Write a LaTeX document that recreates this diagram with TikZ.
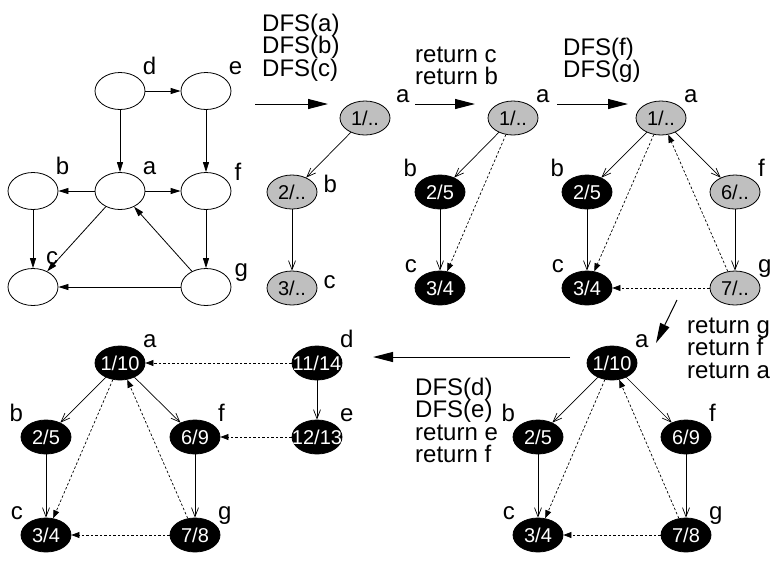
\documentclass[tikz,border=0pt]{standalone}
\usepackage{fontspec}
\setmainfont{Liberation Sans}
\usetikzlibrary{shapes.geometric,arrows.meta,positioning}

\newcommand{\steptxt}{\fontsize{24}{22.5}\selectfont}
\newcommand{\numtxt}{\fontsize{20}{20}\selectfont}
\newcommand{\tstamp}[1]{\makebox[0pt]{#1}}

\begin{document}
\begin{tikzpicture}[
    x=1pt, y=-1pt,
    label distance=6pt,
    % vertices of the input graph
    vertex/.style={ellipse, draw, line width=0.8pt, fill=white,
        minimum width=50pt, minimum height=37pt, inner sep=0pt},
    % discovered (gray) and finished (black) vertices
    visit/.style={ellipse, draw, line width=0.8pt, fill=black!25,
        minimum width=50pt, minimum height=34pt, inner sep=0pt, font=\numtxt},
    done/.style={visit, fill=black, text=white},
    % vertex names
    lbl/.style={font=\steptxt, inner sep=0pt},
    rl/.style={label={[lbl, anchor=base west]north east:#1}},
    ll/.style={label={[lbl, anchor=base east]north west:#1}},
    el/.style={label={[lbl, anchor=base west]east:#1}},
    % arrow styles
    grapharr/.style={-{Triangle[length=10pt,width=6pt]}, line width=0.8pt},
    treearr/.style={-{Straight Barb[length=9pt,width=7pt]}, line width=0.7pt},
    backarr/.style={-{Triangle[length=8pt,width=6pt]}, line width=0.7pt,
        dash pattern=on 2.5pt off 2pt},
    movearr/.style={-{Triangle[length=20pt,width=10pt]}, line width=1pt},
    info/.style={font=\steptxt, align=left, inner sep=0pt, anchor=base west}
]
    \useasboundingbox (0,0) rectangle (775,560);

    % Input graph
    \node[vertex, rl=d] (d1) at (120,91) {};
    \node[vertex, rl=e] (e1) at (206,91) {};
    \node[vertex, rl=b] (b1) at (33,191) {};
    \node[vertex, rl=a] (a1) at (120,191) {};
    \node[vertex, label={[lbl, anchor=base west]20:f}] (f1) at (206,191) {};
    \node[vertex, label={[lbl, anchor=base west]60:c}] (c1) at (33,287) {};
    \node[vertex, label={[lbl, anchor=base west]20:g}] (g1) at (206,287) {};

    \draw[grapharr] (d1) -- (e1);
    \draw[grapharr] (d1) -- (a1);
    \draw[grapharr] (e1) -- (f1);
    \draw[grapharr] (a1) -- (b1);
    \draw[grapharr] (a1) -- (f1);
    \draw[grapharr] (a1) -- (c1);
    \draw[grapharr] (b1) -- (c1);
    \draw[grapharr] (f1) -- (g1);
    \draw[grapharr] (g1) -- (a1);
    \draw[grapharr] (g1) -- (c1);

    % Step 1: DFS(a), DFS(b), DFS(c)
    \node[visit, label={[lbl, anchor=base west, xshift=8pt]north east:a}] (a2) at (365,118) {\tstamp{1/..}};
    \node[visit, el=b] (b2) at (292,192) {\tstamp{2/..}};
    \node[visit, el=c] (c2) at (292,288) {\tstamp{3/..}};

    \draw[treearr] (a2) -- (b2);
    \draw[treearr] (b2) -- (c2);

    % Step 2: return c, return b
    \node[visit, rl=a] (a3) at (513,118) {\tstamp{1/..}};
    \node[done, ll=b] (b3) at (440,192) {\tstamp{2/5}};
    \node[done, ll=c] (c3) at (440,288) {\tstamp{3/4}};

    \draw[treearr] (a3) -- (b3);
    \draw[treearr] (b3) -- (c3);
    \draw[backarr] (a3) -- (c3);

    % Step 3: DFS(f), DFS(g)
    \node[visit, rl=a] (a4) at (661,118) {\tstamp{1/..}};
    \node[done, ll=b] (b4) at (587,192) {\tstamp{2/5}};
    \node[visit, rl=f] (f4) at (735,192) {\tstamp{6/..}};
    \node[done, ll=c] (c4) at (587,288) {\tstamp{3/4}};
    \node[visit, rl=g] (g4) at (735,288) {\tstamp{7/..}};

    \draw[treearr] (a4) -- (b4);
    \draw[treearr] (b4) -- (c4);
    \draw[treearr] (a4) -- (f4);
    \draw[treearr] (f4) -- (g4);
    \draw[backarr] (a4) -- (c4);
    \draw[backarr] (g4) -- (a4);
    \draw[backarr] (g4) -- (c4);

    % Step 4: return g, return f, return a
    \node[done, rl=a] (a5) at (612,363) {\tstamp{1/10}};
    \node[done, ll=b] (b5) at (538,437) {\tstamp{2/5}};
    \node[done, rl=f] (f5) at (686,437) {\tstamp{6/9}};
    \node[done, ll=c] (c5) at (538,535) {\tstamp{3/4}};
    \node[done, rl=g] (g5) at (686,535) {\tstamp{7/8}};

    \draw[treearr] (a5) -- (b5);
    \draw[treearr] (b5) -- (c5);
    \draw[treearr] (a5) -- (f5);
    \draw[treearr] (f5) -- (g5);
    \draw[backarr] (a5) -- (c5);
    \draw[backarr] (g5) -- (a5);
    \draw[backarr] (g5) -- (c5);

    % Step 5: DFS(d), DFS(e), return e, return f
    \node[done, rl=a] (a6) at (120,363) {\tstamp{1/10}};
    \node[done, ll=b] (b6) at (46,437) {\tstamp{2/5}};
    \node[done, rl=f] (f6) at (195,437) {\tstamp{6/9}};
    \node[done, ll=c] (c6) at (46,535) {\tstamp{3/4}};
    \node[done, rl=g] (g6) at (195,535) {\tstamp{7/8}};
    \node[done, rl=d] (d6) at (317,363) {\tstamp{11/14}};
    \node[done, rl=e] (e6) at (317,437) {\tstamp{12/13}};

    \draw[treearr] (a6) -- (b6);
    \draw[treearr] (b6) -- (c6);
    \draw[treearr] (a6) -- (f6);
    \draw[treearr] (f6) -- (g6);
    \draw[treearr] (d6) -- (e6);
    \draw[backarr] (a6) -- (c6);
    \draw[backarr] (g6) -- (a6);
    \draw[backarr] (g6) -- (c6);
    \draw[backarr] (d6) -- (a6);
    \draw[backarr] (e6) -- (f6);

    % Steps between the snapshots
    \coordinate (m1s) at (255,104);
    \coordinate (m1e) at (328,104);
    \coordinate (m2s) at (415,104);
    \coordinate (m2e) at (475,104);
    \coordinate (m3s) at (557,104);
    \coordinate (m3e) at (628,104);
    \coordinate (m4s) at (677,300);
    \coordinate (m4e) at (656,343);
    \coordinate (m5s) at (570,357);
    \coordinate (m5e) at (373,357);

    \draw[movearr] (m1s) -- (m1e);
    \draw[movearr] (m2s) -- (m2e);
    \draw[movearr] (m3s) -- (m3e);
    \draw[movearr] (m4s) -- (m4e);
    \draw[movearr] (m5s) -- (m5e);

    % (base anchor sits on the last line)
    \node[info] (t1) at (262,76) {DFS(a)\\DFS(b)\\DFS(c)};
    \node[info] (t2) at (415,84.5) {return c\\return b};
    \node[info] (t3) at (563,77.5) {DFS(f)\\DFS(g)};
    \node[info] (t4) at (687,378) {return g\\return f\\return a};
    \node[info] (t5) at (415,462.5) {DFS(d)\\DFS(e)\\return e\\return f};
\end{tikzpicture}
\end{document}
